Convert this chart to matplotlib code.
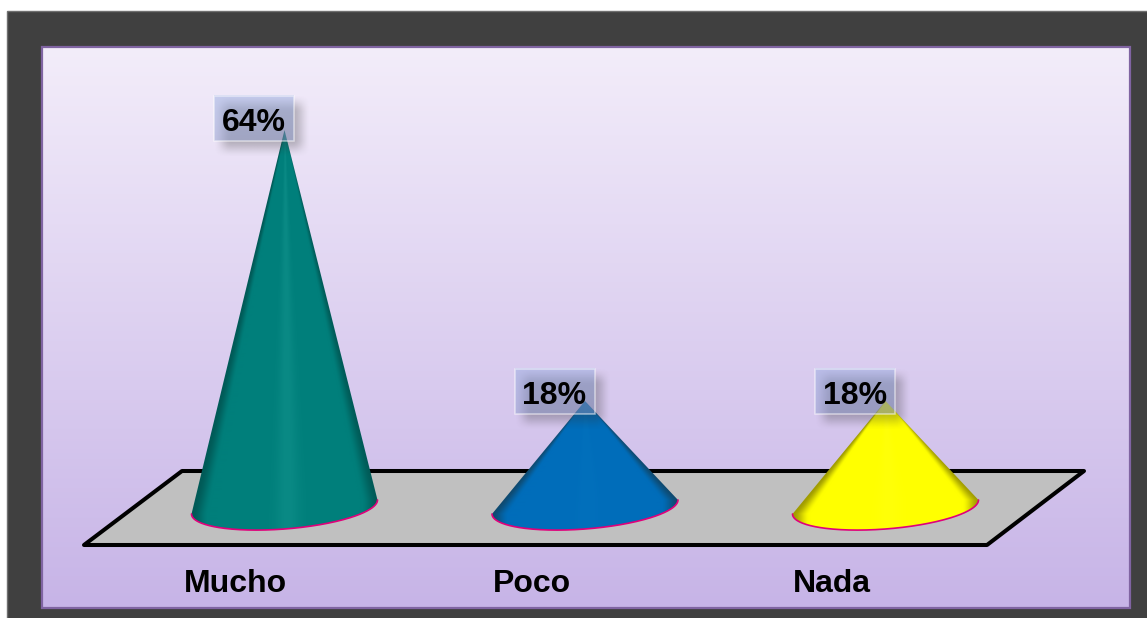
import numpy as np
import matplotlib
matplotlib.use("Agg")
import matplotlib.pyplot as plt
from matplotlib.patches import Polygon, Rectangle

categories = ["Mucho", "Poco", "Nada"]
percent = [64, 18, 18]
cone_colors = ["#007F7B", "#006DBA", "#FFFF00"]
edge_colors = ["#005A57", "#0F4A70", "#A09C00"]
glow_colors = ["#0A8A85", "#0270BC", "#FFFF08"]

W, H = 1147, 618
SX, SY = 300.5, 5.89          # pixels per category step / per percentage point
X0, Y0 = 284.5, 507.0         # pixel position of first category, value 0
BASE_A, BASE_B, BASE_TILT = 93.0, 22.0, 7.0
LABEL_SHIFT = [-49.5, -53.5, -54.0]
BOX_LIFT = [11.5, 9.0, 9.0]

plt.rcParams["font.family"] = ["Liberation Sans", "DejaVu Sans"]
fig = plt.figure(figsize=(W / 100, H / 100), dpi=100, facecolor="white")


def lerp(c1, c2, n):
    a = np.array(matplotlib.colors.to_rgb(c1))
    b = np.array(matplotlib.colors.to_rgb(c2))
    t = np.linspace(0, 1, n)[:, None]
    return a + (b - a) * t


def smooth(t):
    t = np.clip(t, 0, 1)
    return t * t * (3 - 2 * t)


# ---- page, frame, panel, floor (pixel axes) ----
bg = fig.add_axes([0, 0, 1, 1])
bg.set_xlim(0, W)
bg.set_ylim(H, 0)
bg.axis("off")
bg.add_patch(Rectangle((6.5, 10.5), W, H, fc="#404040", ec="#707070", lw=1))
grad = lerp("#F3EDFA", "#C7B4E7", 256)[:, None, :]
bg.imshow(grad, extent=(42, 1130, 607.5, 47), aspect="auto", zorder=1, interpolation="bilinear")
bg.set_xlim(0, W)
bg.set_ylim(H, 0)
bg.add_patch(Rectangle((42, 47), 1088, 560.5, fc="none", ec="#8064A2", lw=1.6, zorder=2))
bg.add_patch(Polygon([(84, 545), (987, 545), (1084, 471), (182, 471)], closed=True,
                     fc="#C0C0C0", ec="black", lw=2.9, joinstyle="round", zorder=3))

# ---- data axes: x = category index, y = percentage ----
ax = fig.add_axes([0, 0, 1, 1])
ax.patch.set_alpha(0)
ax.axis("off")
xlim = (-X0 / SX, (W - X0) / SX)
ylim = ((Y0 - H) / SY, Y0 / SY)

t = np.linspace(np.pi, 0, 160)
for i, v in enumerate(percent):
    arc_x = i + BASE_A * np.cos(t) / SX
    arc_y = -(BASE_B * np.sin(t) - BASE_TILT * np.cos(t)) / SY
    verts = np.vstack([[i, v], np.column_stack([arc_x, arc_y])])
    clip = Polygon(verts, closed=True, transform=ax.transData, fc="none", ec="none")
    ax.add_patch(clip)

    # angular shading of the cone surface, following the tilted silhouette
    gx = np.linspace(i - 100 / SX, i + 100 / SX, 400)
    gy = np.linspace(v, -30 / SY, 800)
    xx, yy = np.meshgrid(gx, gy)
    side = np.sign(xx - i) * BASE_TILT / SY
    frac = np.clip((v - yy) / (v - side), 1e-3, 1.0)
    u = (xx - i) * SX / (BASE_A * frac)
    base = np.array(matplotlib.colors.to_rgb(cone_colors[i]))
    dark = np.array(matplotlib.colors.to_rgb(edge_colors[i]))
    glow = np.array(matplotlib.colors.to_rgb(glow_colors[i]))
    e = smooth((np.abs(u) - 0.82) / 0.18)[..., None]
    g = np.exp(-((u - 0.03) / 0.13) ** 2)[..., None]
    img = base * (1 - g) + glow * g
    img = img * (1 - e) + dark * e
    im = ax.imshow(np.clip(img, 0, 1), extent=(gx[0], gx[-1], gy[-1], gy[0]), aspect="auto",
                   origin="upper", zorder=4, interpolation="bilinear")
    im.set_clip_path(clip)
    ax.plot(arc_x, arc_y, color="#E0007A", lw=1.2, zorder=5, solid_capstyle="round")

    # value label: soft shadow, translucent box, text
    cx = i - 30.5 / SX
    cy = v + BOX_LIFT[i] / SY
    bw, bh = 80 / SX, 45 / SY
    ox, oy = 8 / SX, -8 / SY
    blur_x, blur_y = 9 / SX, 9 / SY
    sx = np.linspace(cx + ox - bw / 2 - blur_x, cx + ox + bw / 2 + blur_x, 120)
    sy = np.linspace(cy + oy + bh / 2 + blur_y, cy + oy - bh / 2 - blur_y, 90)
    ax_ = smooth((sx - sx[0]) / (2 * blur_x)) * smooth((sx[-1] - sx) / (2 * blur_x))
    ay_ = smooth((sy[0] - sy) / (2 * blur_y)) * smooth((sy - sy[-1]) / (2 * blur_y))
    shadow = np.zeros((90, 120, 4))
    shadow[..., :3] = 0.2
    shadow[..., 3] = 0.3 * np.outer(ay_, ax_)
    ax.imshow(shadow, extent=(sx[0], sx[-1], sy[-1], sy[0]), aspect="auto", origin="upper",
              zorder=6, interpolation="bilinear")

    box = np.zeros((64, 1, 4))
    box[..., :3] = lerp("#93AAE0", "#8A9ACC", 64)[:, None, :]
    box[..., 3] = 0.45
    ax.imshow(box, extent=(cx - bw / 2, cx + bw / 2, cy - bh / 2, cy + bh / 2), aspect="auto",
              origin="upper", zorder=7, interpolation="bilinear")
    ax.add_patch(Rectangle((cx - bw / 2, cy - bh / 2), bw, bh, fc="none",
                           ec=(1, 1, 1, 0.55), lw=1.1, zorder=8))
    ax.text(cx, cy - 1 / SY, f"{v}%", ha="center", va="center_baseline", fontsize=23, fontweight="bold",
            color="black", zorder=9)
    ax.text(i + LABEL_SHIFT[i] / SX, (Y0 - 584) / SY, categories[i], ha="center", va="center",
            fontsize=23, fontweight="bold", color="black", zorder=9)

ax.set_xlim(*xlim)
ax.set_ylim(*ylim)
fig.savefig("out.png", dpi=100)
